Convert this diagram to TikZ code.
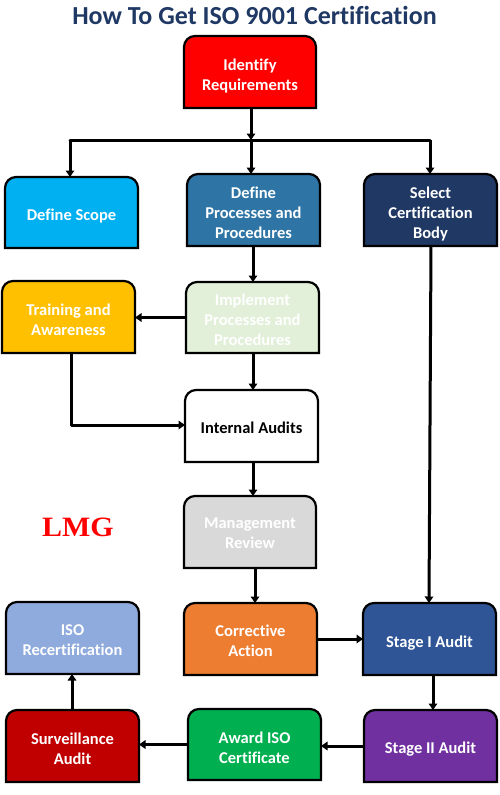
\documentclass[tikz,border=0pt]{standalone}
\usepackage{fontspec}
\setmainfont{Carlito}[Ligatures=NoCommon]
\newfontfamily\logofont{Liberation Serif}
\usetikzlibrary{arrows.meta,calc}
\definecolor{cTitle}{HTML}{1F3864}
\definecolor{cRed}{HTML}{FF0000}
\definecolor{cSky}{HTML}{00B0F0}
\definecolor{cTeal}{HTML}{2E75A6}
\definecolor{cNavy}{HTML}{203864}
\definecolor{cGold}{HTML}{FFC000}
\definecolor{cPale}{HTML}{E2EFD9}
\definecolor{cGrey}{HTML}{D9D9D9}
\definecolor{cOrange}{HTML}{ED7D31}
\definecolor{cBlue}{HTML}{2F5597}
\definecolor{cLight}{HTML}{8FAADC}
\definecolor{cDark}{HTML}{C00000}
\definecolor{cGreen}{HTML}{00B050}
\definecolor{cPurple}{HTML}{7030A0}
\tikzset{
  boxshape/.style={draw=black,line width=2.2pt},
  boxtext/.style={inner sep=0pt,align=center,text=white,font=\fontsize{16.5}{20}\selectfont\bfseries},
  link/.style={draw=black,line width=3pt,-{Triangle[length=6.5pt,width=8.5pt]}},
  plainlink/.style={draw=black,line width=3pt}
}
% [text shift], name, left, top, right, bottom, fill, text
\newcommand\stepbox[8][3]{%
  \begin{scope}[rounded corners=11pt]
  \draw[boxshape,fill=#7] (#3,{(#4+#6)/2}) -- (#3,#4) -- (#5,#4) -- (#5,{(#4+#6)/2}) [sharp corners] -- (#5,#6) -- (#3,#6) -- cycle;
  \end{scope}
  \node[boxtext] (#2) at ({(#3+#5)/2},{(#4+#6)/2+#1}) {#8};
  \coordinate (#2-t) at ({(#3+#5)/2},#4);
  \coordinate (#2-b) at ({(#3+#5)/2},#6);
  \coordinate (#2-l) at (#3,{(#4+#6)/2});
  \coordinate (#2-r) at (#5,{(#4+#6)/2});
}
\begin{document}
\begin{tikzpicture}[x=1pt,y=-1pt]
\useasboundingbox (0,0) rectangle (499,795);
\node[inner sep=0pt,text=cTitle,font=\fontsize{26}{28}\selectfont\bfseries] (title) at (254.5,15) {How To Get ISO 9001 Certification};
\stepbox[4]{ident}{184}{36}{316}{108}{cRed}{Identify\\Requirements}
\stepbox[4]{scope}{5}{177}{138}{248}{cSky}{Define Scope}
\stepbox{defproc}{187}{174}{320}{246}{cTeal}{Define\\Processes and\\Procedures}
\stepbox[4]{select}{364}{174}{497}{246}{cNavy}{Select\\Certification\\Body}
\stepbox{train}{2}{281}{135}{353}{cGold}{Training and\\Awareness}
\stepbox[2]{impl}{186}{282}{319}{353}{cPale}{Implement\\Processes and\\Procedures}
\stepbox[2]{audit}{185}{390}{318}{462}{white}{\textcolor{black}{Internal Audits}}
\stepbox[1]{review}{184}{496}{316}{568}{cGrey}{Management\\Review}
\stepbox[2]{correct}{184}{603}{317}{675}{cOrange}{Corrective\\Action}
\stepbox[4]{stageone}{363}{603}{496}{675}{cBlue}{Stage I Audit}
\stepbox[2]{recert}{6}{602}{139}{674}{cLight}{ISO\\Recertification}
\stepbox{surv}{6}{710}{139}{782}{cDark}{Surveillance\\Audit}
\stepbox{award}{188}{709}{321}{780}{cGreen}{Award ISO\\Certificate}
\stepbox{stagetwo}{364}{710}{497}{782}{cPurple}{Stage II Audit}
\node[inner sep=0pt,text=cRed,font=\fontsize{28}{28}\selectfont\logofont\bfseries,xscale=1.07] (logo) at (78,527) {LMG};
% bus
\coordinate (busc) at (251,140);
\coordinate (busl) at (70,140);
\coordinate (busr) at (430,140);
\draw[link] (busc |- ident-b) -- (busc);
\draw[plainlink,line cap=round,line join=round] (busl) -- (busr);
\draw[link] (busl) -- (busl |- scope-t);
\draw[link] (busc) -- (busc |- defproc-t);
\draw[link] (busr) -- (busr |- select-t);
% chain
\coordinate (x253) at (253,0);
\draw[link] (x253 |- defproc-b) -- (x253 |- impl-t);
\draw[link] (x253 |- impl-b) -- (x253 |- audit-t);
\draw[link] (x253 |- audit-b) -- (x253 |- review-t);
\coordinate (x255) at (255,0);
\draw[link] (x255 |- review-b) -- (x255 |- correct-t);
\coordinate (a) at (431,246);
\draw[link] (a) -- (429,603);
\draw[link] (impl-l) -- (train-r |- impl-l);
\coordinate (tr) at (71,425);
\draw[link,line join=round] (tr |- train-b) -- (tr) -- (audit-l |- tr);
\draw[link] (correct-r) -- (stageone-l);
\coordinate (x433) at (433,0);
\draw[link] (x433 |- stageone-b) -- (x433 |- stagetwo-t);
\draw[link] (stagetwo-l) -- (award-r |- stagetwo-l);
\draw[link] (award-l) -- (surv-r |- award-l);
\coordinate (x72) at (72,0);
\draw[link] (x72 |- surv-t) -- (x72 |- recert-b);
\end{tikzpicture}
\end{document}
